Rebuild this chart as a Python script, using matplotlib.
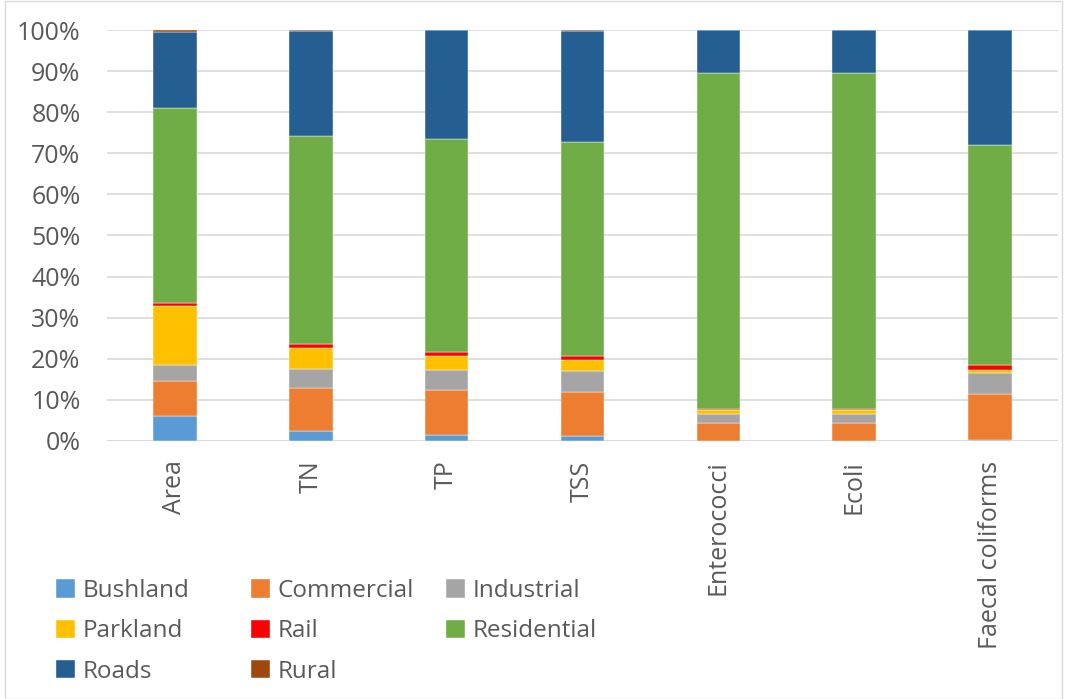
import numpy as np
import matplotlib
matplotlib.use("Agg")
import matplotlib.pyplot as plt
from matplotlib.ticker import FuncFormatter

# categories on x axis
categories = ["Area", "TN", "TP", "TSS", "Enterococci", "Ecoli", "Faecal coliforms"]

# share of each land use (%)
bushland    = [6.1, 2.4, 1.5, 1.1, 0.1, 0.1, 0.3]
commercial  = [8.5, 10.5, 10.8, 10.9, 4.4, 4.4, 11.2]
industrial  = [4.0, 4.7, 5.0, 5.0, 2.1, 2.1, 5.1]
parkland    = [14.2, 5.0, 3.3, 2.6, 1.0, 1.0, 0.7]
rail        = [0.8, 1.0, 1.1, 1.2, 0.3, 0.3, 1.1]
residential = [47.5, 50.7, 51.7, 52.0, 81.6, 81.6, 53.7]
roads       = [18.5, 25.4, 26.6, 26.9, 10.5, 10.5, 27.9]
rural       = [0.4, 0.3, 0.0, 0.3, 0.0, 0.0, 0.0]

series = [
    ("Bushland", bushland, "#5b9bd5"),
    ("Commercial", commercial, "#ed7d31"),
    ("Industrial", industrial, "#a5a5a5"),
    ("Parkland", parkland, "#ffc000"),
    ("Rail", rail, "#ff0000"),
    ("Residential", residential, "#70ad47"),
    ("Roads", roads, "#255e91"),
    ("Rural", rural, "#9e480e"),
]

plt.rcParams['font.family'] = ['Open Sans', 'DejaVu Sans']
txt = "#595959"
W, H = 1067, 699

fig = plt.figure(figsize=(W / 100, H / 100), dpi=100)
ax = fig.add_axes([107 / W, 1 - 441 / H, 951 / W, 411 / H])

x = np.arange(len(categories))
bottom = np.zeros(len(categories))
handles = {}
for name, vals, col in series:
    vals = np.array(vals, dtype=float)
    b = ax.bar(x, vals, 0.32, bottom=bottom, color=col, edgecolor="white", linewidth=0.3,
               label=name, zorder=3)
    handles[name] = b
    bottom += vals

ax.set_xlim(-0.5, len(categories) - 0.5)
ax.set_ylim(0, 100)
ax.set_yticks(np.arange(0, 101, 10))
ax.yaxis.set_major_formatter(FuncFormatter(lambda v, p: f"{v:.0f}%"))
ax.grid(axis="y", color="#d9d9d9", linewidth=1.2, zorder=0)
ax.set_xticks(x)
ax.set_xticklabels(categories, rotation=90, fontsize=18, color=txt)
ax.tick_params(axis="y", labelsize=18, colors=txt, length=0, pad=19)
ax.tick_params(axis="x", length=0, pad=14)
for s in ax.spines.values():
    s.set_visible(False)
ax.axhline(0, color="#d9d9d9", linewidth=1.2, zorder=2)

# legend: one column at a time so the columns sit where they do in the original
legend_cols = [["Bushland", "Parkland", "Roads"],
               ["Commercial", "Rail", "Rural"],
               ["Industrial", "Residential"]]
col_x = [56, 251, 446]
for names, cx in zip(legend_cols, col_x):
    leg = fig.legend([handles[n] for n in names], names, loc="upper left",
                     bbox_to_anchor=(cx / W, 1 - 579 / H), frameon=False, fontsize=17.5,
                     handlelength=0.8, handleheight=0.8, handletextpad=0.3,
                     labelspacing=0.67, borderpad=0, borderaxespad=0)
    for t in leg.get_texts():
        t.set_color(txt)

# light border round the chart area
fig.patches.append(plt.Rectangle((0.005, 0.0), 0.99, 0.999, transform=fig.transFigure,
                                 fill=False, edgecolor="#d9d9d9", linewidth=1))

fig.savefig("out.png", dpi=100)
